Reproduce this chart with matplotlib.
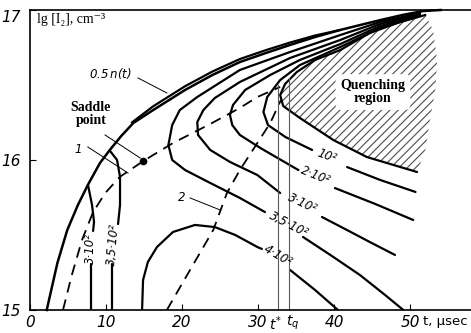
import matplotlib.pyplot as plt

plt.rcParams['hatch.linewidth'] = 0.8

# axis ticks
xticks = [0, 10, 20, 30, 40, 50]
yticks = [15, 16, 17]

# outer boundary n(t)
env_t = [2.2, 3.6, 4.9, 6.3, 7.6, 9.2, 10.5, 12.0, 13.6, 16.2, 20.4, 24.0, 27.6,
         31.0, 34.2, 37.5, 40.8, 44.0, 46.1, 49.0, 51.7, 54.0]
env_lg = [15.0, 15.313, 15.533, 15.7, 15.833, 15.98, 16.067, 16.16, 16.247, 16.333,
          16.467, 16.567, 16.653, 16.713, 16.767, 16.82, 16.867, 16.907, 16.933,
          16.967, 16.993, 17.0]

# 0.5 n(t)
half_t = [13.4, 16.2, 20.4, 24.0, 27.6, 31.0, 34.2, 37.5, 40.8]
half_lg = [16.25, 16.358, 16.492, 16.59, 16.673, 16.732, 16.783, 16.83, 16.867]

# small contours left of the saddle point
c300s_t = [[7.63, 8.16, 8.42, 8.3], [8.03, 8.03]]
c300s_lg = [[15.833, 15.7, 15.587, 15.527], [15.307, 15.0]]
c350s_t = [[10.53, 11.45, 11.84, 11.84, 11.58], [10.79, 10.79]]
c350s_lg = [[16.06, 16.0, 15.887, 15.7, 15.573], [15.307, 15.0]]

# big contours right of the saddle point (before label, after label)
c350_t = [[51.3, 46.05, 40.8, 34.2, 27.6, 22.0, 19.7, 18.7, 18.2, 18.7, 20.4, 23.7, 27.6, 30.9],
          [35.9, 39.5, 43.4, 46.7, 49.1]]
c350_lg = [[16.98, 16.92, 16.833, 16.72, 16.6, 16.42, 16.333, 16.233, 16.1, 16.0, 15.933,
            15.847, 15.747, 15.653],
           [15.487, 15.367, 15.233, 15.1, 15.0]]
c300_t = [[51.3, 46.05, 40.8, 34.2, 27.6, 24.3, 22.8, 22.0, 22.1, 23.7, 26.3, 29.9, 32.9],
          [38.4, 41.7, 44.7, 48.0]]
c300_lg = [[16.973, 16.907, 16.8, 16.68, 16.52, 16.413, 16.333, 16.253, 16.167, 16.067,
            15.987, 15.9, 15.78],
           [15.62, 15.533, 15.453, 15.367]]
c200_t = [[51.3, 46.05, 40.8, 35.5, 31.6, 28.3, 26.7, 26.3, 26.6, 27.6, 30.3, 35.3],
          [40.1, 45.4, 50.4]]
c200_lg = [[16.967, 16.893, 16.773, 16.667, 16.567, 16.467, 16.367, 16.3, 16.233, 16.167,
            16.08, 15.933],
           [15.813, 15.707, 15.6]]
c100_t = [[51.3, 46.05, 40.8, 35.5, 32.9, 31.2, 30.7, 31.3, 33.6, 37.1],
          [41.7, 46.05, 50.7]]
c100_lg = [[16.96, 16.88, 16.753, 16.633, 16.533, 16.42, 16.32, 16.233, 16.153, 16.067],
           [15.953, 15.867, 15.787]]
c400_t = [[14.74, 14.87, 15.5, 16.7, 18.8, 21.7, 24.3, 27.0, 29.9, 30.5],
          [34.2, 37.5, 40.5]]
c400_lg = [[15.0, 15.2, 15.32, 15.42, 15.52, 15.567, 15.553, 15.5, 15.42, 15.407],
           [15.267, 15.133, 15.0]]

# quenching region boundary and its hatched area
quench_t = [52.0, 48.7, 44.7, 40.8, 37.5, 35.1, 33.55, 32.9, 33.3, 35.5, 39.9, 44.3, 50.9]
quench_lg = [16.967, 16.92, 16.847, 16.733, 16.667, 16.587, 16.507, 16.433, 16.36, 16.28,
             16.133, 16.02, 15.92]
edge_t = [52.0, 52.6, 53.3, 53.55, 53.0]
edge_lg = [16.067, 16.267, 16.467, 16.667, 16.867]

# separatrices 1 and 2
sep1_t = [4.34, 5.5, 6.84, 8.3, 9.9, 11.8, 14.9, 18.8, 23.7, 27.6, 29.9, 32.9]
sep1_lg = [15.0, 15.233, 15.467, 15.653, 15.78, 15.887, 15.993, 16.113, 16.24, 16.347,
           16.42, 16.487]
sep2_t = [18.0, 21.05, 24.1, 25.9, 27.6, 29.9, 31.6, 33.0]
sep2_lg = [15.0, 15.267, 15.533, 15.78, 15.933, 16.113, 16.247, 16.4]

saddle = (14.9, 15.993)
t_star = 32.6
t_q = 34.0

fig = plt.figure(figsize=(4.71, 3.33), dpi=100)
ax = fig.add_axes([30 / 471, 23 / 333, 441 / 471, 300 / 333])
ax.set_xlim(0, 58)
ax.set_ylim(15, 17)

thick = dict(color='k', lw=1.6, solid_capstyle='round')
thin = dict(color='k', lw=0.7)

ax.plot(env_t, env_lg, color='k', lw=1.8, clip_on=False)
ax.plot(half_t, half_lg, **thick)
for tt, ll in zip(c300s_t + c350s_t + c350_t + c300_t + c200_t + c100_t + c400_t,
                  c300s_lg + c350s_lg + c350_lg + c300_lg + c200_lg + c100_lg + c400_lg):
    ax.plot(tt, ll, **thick)

# hatched quenching region
ax.fill(quench_t + edge_t, quench_lg + edge_lg, facecolor='none', edgecolor='0.3',
        hatch='////', linewidth=0)
ax.plot(quench_t, quench_lg, **thick)

ax.plot(sep1_t, sep1_lg, color='k', lw=1.3, dashes=(6, 4))
ax.plot(sep2_t, sep2_lg, color='k', lw=1.3, dashes=(6, 4))
ax.plot(*saddle, 'o', color='k', ms=4.5)

ax.plot([t_star, t_star], [15, 16.5], color='0.35', lw=0.8)
ax.plot([t_q, t_q], [15, 16.55], color='0.35', lw=0.8)

# leader lines
ax.plot([14.2, 18.0], [16.547, 16.447], **thin)
ax.plot([9.87, 14.5], [16.167, 16.013], **thin)
ax.plot([7.6, 12.9], [16.087, 15.913], **thin)
ax.plot([21.05, 25.0], [15.747, 15.667], **thin)

# labels
lab = dict(family=['Liberation Sans Narrow', 'DejaVu Sans'], style='italic', fontsize=8.5)
ax.text(10.5, 16.58, '0.5$\\,$n(t)', ha='center', va='center', **lab)
ax.text(6.3, 16.073, '1', ha='center', va='center', **lab)
ax.text(19.9, 15.753, '2', ha='center', va='center', **lab)
ax.text(8.0, 15.413, '3·10²', rotation=90, ha='center', va='center', **lab)
ax.text(10.9, 15.433, '3,5·10²', rotation=85, ha='center', va='center', **lab)
ax.text(39.1, 16.027, '10²', rotation=-20, ha='center', va='center', **lab)
ax.text(37.6, 15.893, '2·10²', rotation=-22, ha='center', va='center', **lab)
ax.text(35.8, 15.713, '3·10²', rotation=-25, ha='center', va='center', **lab)
ax.text(34.0, 15.57, '3,5·10²', rotation=-27, ha='center', va='center', **lab)
ax.text(32.6, 15.36, '4·10²', rotation=-30, ha='center', va='center', **lab)

serif_b = dict(family='Liberation Serif', weight='bold', fontsize=10, linespacing=1.0)
ax.text(8.0, 16.307, 'Saddle\npoint', ha='center', va='center', **serif_b)
ax.text(45.1, 16.453, 'Quenching\nregion', ha='center', va='center',
        bbox=dict(boxstyle='round,pad=0.35', facecolor='white', edgecolor='none'), **serif_b)
ax.text(0.9, 16.94, 'lg [I₂], cm⁻³', ha='left', va='center',
        family=['Liberation Serif', 'DejaVu Serif'], fontsize=10)

# axes
ax.spines['right'].set_visible(False)
for s in ['left', 'bottom', 'top']:
    ax.spines[s].set_linewidth(1.2)
ax.set_xticks(xticks)
ax.set_yticks(yticks)
ax.tick_params(direction='in', length=4, width=0.8)
ax.tick_params(axis='x', pad=3.5)
ax.tick_params(axis='y', pad=7)
for lbl in ax.get_xticklabels() + ax.get_yticklabels():
    lbl.set_fontstyle('italic')
    lbl.set_family(['Liberation Sans Narrow', 'DejaVu Sans'])
    lbl.set_fontsize(11)
ax.get_yticklabels()[-1].set_va('top')

xt = ax.get_xaxis_transform()
ax.text(t_star - 0.3, -0.014, '$t^{*}$', transform=xt, ha='center', va='top', fontsize=10)
ax.text(t_q + 0.6, -0.012, '$t_{q}$', transform=xt, ha='center', va='top', fontsize=10)
ax.text(51.7, -0.017, 't, μsec', transform=xt, ha='left', va='top',
        family='DejaVu Sans', fontsize=9.5)

fig.savefig('out.png', dpi=100)
